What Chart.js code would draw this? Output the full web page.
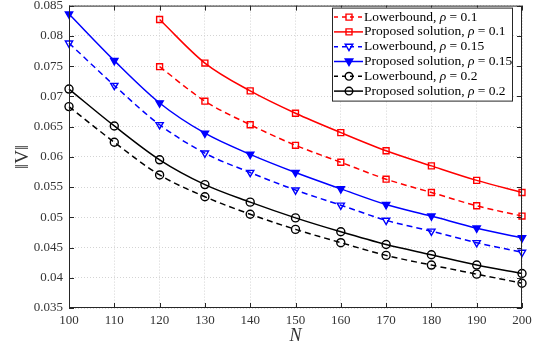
<!DOCTYPE html>
<html>
<head>
<meta charset="utf-8">
<script src="https://cdn.jsdelivr.net/npm/chart.js@4.4.0/dist/chart.umd.min.js"></script>
<style>
  html, body { margin: 0; padding: 0; background: #fff; }
  #wrap { width: 540px; height: 345px; }
</style>
</head>
<body>
<div id="wrap"><canvas id="chart"></canvas></div>
<script>
// data
const N = [100, 110, 120, 130, 140, 150, 160, 170, 180, 190, 200]
const lb01 = [null, null, 0.0749, 0.0692, 0.0653, 0.0619, 0.0591, 0.0563, 0.0541, 0.0519, 0.0502]
const ps01 = [null, null, 0.0827, 0.0755, 0.0709, 0.0672, 0.0640, 0.0610, 0.0585, 0.0561, 0.0541]
const lb015 = [0.0788, 0.0718, 0.0653, 0.0606, 0.0574, 0.0545, 0.0520, 0.0495, 0.0477, 0.0458, 0.0442]
const ps015 = [0.0836, 0.0759, 0.0689, 0.0639, 0.0604, 0.0574, 0.0547, 0.0521, 0.0502, 0.0482, 0.0466]
const lb02 = [0.0683, 0.0624, 0.0570, 0.0534, 0.0505, 0.0480, 0.0458, 0.0437, 0.0421, 0.0406, 0.0391]
const ps02 = [0.0712, 0.0651, 0.0595, 0.0554, 0.0525, 0.0499, 0.0476, 0.0455, 0.0438, 0.0421, 0.0407]
const yTicks = [0.035, 0.04, 0.045, 0.05, 0.055, 0.06, 0.065, 0.07, 0.075, 0.08, 0.085]

const SERIF = "'Liberation Serif', 'DejaVu Serif', serif"
const DASH = [6, 4]

function series(label, vals, color, dashed, style, filled) {
    return {
        label: label,
        data: vals,
        borderColor: color,
        borderWidth: 1.5,
        borderDash: dashed ? DASH : [],
        cubicInterpolationMode: 'monotone',
        fill: false,
        pointStyle: style,
        pointRotation: style === 'triangle' ? 180 : 0,
        pointRadius: style === 'circle' ? 4 : 4.2,
        pointBorderWidth: 1.4,
        pointBorderColor: color,
        pointBackgroundColor: filled ? color : 'rgba(0,0,0,0)',
        spanGaps: true
    }
}

const datasets = [
    series('Lowerbound, ', lb01, '#ff0000', true, 'rect', false),
    series('Proposed solution, ', ps01, '#ff0000', false, 'rect', false),
    series('Lowerbound, ', lb015, '#0000ff', true, 'triangle', false),
    series('Proposed solution, ', ps015, '#0000ff', false, 'triangle', true),
    series('Lowerbound, ', lb02, '#000000', true, 'circle', false),
    series('Proposed solution, ', ps02, '#000000', false, 'circle', false)
]
const rhos = ['0.1', '0.1', '0.15', '0.15', '0.2', '0.2']

function drawMarker(c, style, x, y, color, filled) {
    c.save()
    c.setLineDash([])
    c.lineWidth = 1.4
    c.strokeStyle = color
    c.fillStyle = color
    c.beginPath()
    if (style === 'rect') {
        c.rect(x - 3, y - 3, 6, 6)
    } else if (style === 'triangle') {
        c.moveTo(x - 3.8, y - 2.5)
        c.lineTo(x + 3.8, y - 2.5)
        c.lineTo(x, y + 4)
        c.closePath()
    } else {
        c.arc(x, y, 3.8, 0, Math.PI * 2)
    }
    if (filled) c.fill()
    c.stroke()
    c.restore()
}

// frame, inward ticks and the legend box
const matlabAxes = {
    id: 'matlabAxes',
    afterDatasetsDraw(chart) {
        const c = chart.ctx
        const a = chart.chartArea
        const xs = chart.scales.x
        const ys = chart.scales.y
        c.save()
        c.strokeStyle = '#262626'
        c.lineWidth = 1
        c.setLineDash([])
        c.strokeRect(a.left + 0.5, a.top + 0.5, a.right - a.left - 1, a.bottom - a.top - 1)
        c.beginPath()
        xs.ticks.forEach((t, i) => {
            const x = Math.round(xs.getPixelForTick(i)) + 0.5
            c.moveTo(x, a.bottom); c.lineTo(x, a.bottom - 5)
            c.moveTo(x, a.top); c.lineTo(x, a.top + 5)
        })
        ys.ticks.forEach((t, i) => {
            const y = Math.round(ys.getPixelForTick(i)) + 0.5
            c.moveTo(a.left, y); c.lineTo(a.left + 5, y)
            c.moveTo(a.right, y); c.lineTo(a.right - 5, y)
        })
        c.stroke()
        c.restore()
    },
    afterDraw(chart) {
        const c = chart.ctx
        const a = chart.chartArea
        const bx = a.right - 190, by = a.top + 2, bw = 180, bh = 93
        c.save()
        c.fillStyle = '#fff'
        c.fillRect(bx, by, bw, bh)
        c.strokeStyle = '#262626'
        c.lineWidth = 1
        c.strokeRect(bx + 0.5, by + 0.5, bw, bh)
        c.textBaseline = 'middle'
        datasets.forEach((ds, i) => {
            const y = by + 9.5 + i * 14.8
            c.save()
            c.strokeStyle = ds.borderColor
            c.lineWidth = 1.5
            c.setLineDash(ds.borderDash.length ? [4, 4] : [])
            c.beginPath()
            c.moveTo(bx + 2, y); c.lineTo(bx + 31, y)
            c.stroke()
            c.restore()
            drawMarker(c, ds.pointStyle, bx + 17, y, ds.borderColor, ds.pointBackgroundColor !== 'rgba(0,0,0,0)')
            let x = bx + 32
            c.fillStyle = '#000'
            c.font = '13.5px ' + SERIF
            c.fillText(ds.label, x, y)
            x += c.measureText(ds.label).width
            c.font = 'italic 13.5px ' + SERIF
            c.fillText('ρ', x, y)
            x += c.measureText('ρ').width
            c.font = '13.5px ' + SERIF
            c.fillText(' = ' + rhos[i], x, y)
        })
        c.restore()
    }
}

new Chart(document.getElementById('chart').getContext('2d'), {
    type: 'line',
    data: { labels: N, datasets: datasets },
    plugins: [matlabAxes],
    options: {
        responsive: true,
        maintainAspectRatio: false,
        animation: false,
        layout: { padding: { top: 5, right: 18, left: 0, bottom: 0 } },
        plugins: { legend: { display: false }, tooltip: { enabled: false } },
        scales: {
            x: {
                type: 'category',
                offset: false,
                grid: { color: '#d4d4d4', lineWidth: 1, drawTicks: false },
                border: { display: false, dash: [1, 2] },
                ticks: { color: '#333', font: { family: SERIF, size: 13 }, padding: 5, maxRotation: 0, autoSkip: false },
                title: { display: true, text: 'N', color: '#333', font: { family: SERIF, size: 18, style: 'italic', lineHeight: 1 }, padding: { bottom: 0, top: 0 } },
                afterFit(s) { s.height = 37; s.paddingLeft = 0; s.paddingRight = 0 }
            },
            y: {
                min: 0.035,
                max: 0.085,
                afterBuildTicks(s) { s.ticks = yTicks.map(v => ({ value: v })) },
                grid: { color: '#d4d4d4', lineWidth: 1, drawTicks: false },
                border: { display: false, dash: [1, 2] },
                ticks: {
                    color: '#333',
                    font: { family: SERIF, size: 13 },
                    padding: 6,
                    callback: v => String(Number(v.toFixed(3)))
                },
                title: { display: true, text: '‖V‖', color: '#333', font: { family: SERIF, size: 19 }, padding: { top: 12 } },
                afterFit(s) { s.width = 69; s.paddingTop = 0; s.paddingBottom = 0 }
            }
        }
    }
})
</script>
</body>
</html>
